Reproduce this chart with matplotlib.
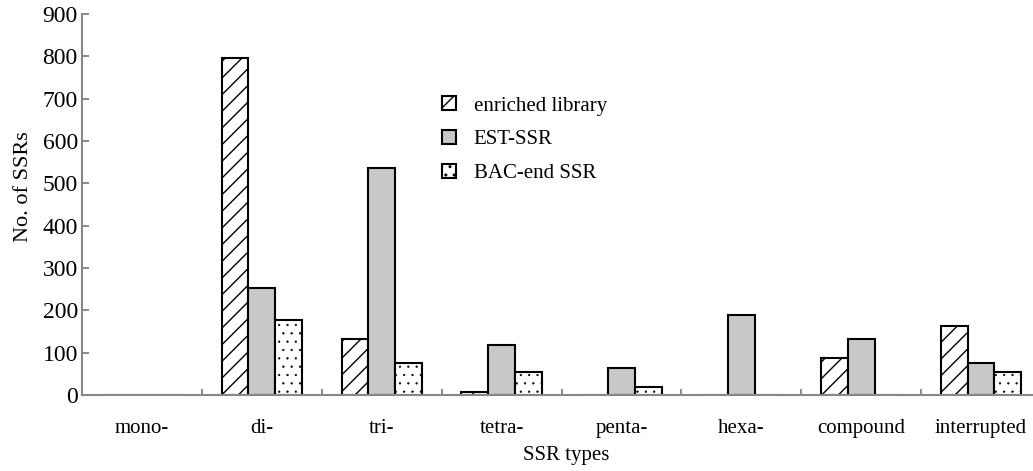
import matplotlib
matplotlib.use("Agg")
import matplotlib.pyplot as plt
import numpy as np

categories = ["mono-", "di-", "tri-", "tetra-", "penta-", "hexa-", "compound", "interrupted"]
enriched_library = [0, 797, 132, 6, 0, 0, 88, 163]
est_ssr = [0, 253, 536, 119, 63, 189, 132, 76]
bac_end_ssr = [0, 176, 76, 54, 19, 0, 0, 54]
series_names = ["enriched library", "EST-SSR", "BAC-end SSR"]
yticks = [0, 100, 200, 300, 400, 500, 600, 700, 800, 900]

plt.rcParams['font.family'] = ['Liberation Serif', 'DejaVu Serif']
plt.rcParams['hatch.linewidth'] = 1.0
plt.rcParams['hatch.color'] = 'black'

fig = plt.figure(figsize=(10.33, 4.71), dpi=100)
ax = fig.add_axes([82/1033, 1-395/471, (1041-82)/1033, (395-14)/471])

x = np.arange(len(categories))
w = 0.223
styles = [dict(facecolor='white', hatch='//'),
          dict(facecolor='#c8c8c8', hatch=None),
          dict(facecolor='white', hatch='..')]
data = [enriched_library, est_ssr, bac_end_ssr]
for i, (vals, st, name) in enumerate(zip(data, styles, series_names)):
    bars = ax.bar(x + (i - 1) * w, vals, width=w, edgecolor='black', linewidth=1.5,
                  label=name, **st)
    if i == 2:
        for b in bars:
            try:
                b.set_hatch_linewidth(0.4)
            except Exception:
                pass

ax.set_xlim(-0.5, 7.5)
ax.set_ylim(0, 900)
ax.set_yticks(yticks)
ax.set_xticks(x)
ax.set_xticklabels(categories, fontsize=15)
ax.set_xticks(np.arange(-0.5, 7.6, 1.0), minor=True)
ax.tick_params(axis='x', which='major', length=0, pad=17)
ax.tick_params(axis='x', which='minor', direction='in', length=4, color='#777777', width=1.2)
ax.tick_params(axis='y', direction='in', length=5, color='#777777', width=1.2, labelsize=17, pad=3)

for s in ['top', 'right']:
    ax.spines[s].set_visible(False)
for s in ['left', 'bottom']:
    ax.spines[s].set_color('#888888')
    ax.spines[s].set_linewidth(1.5)

ax.set_xlabel("SSR types", fontsize=15, labelpad=6)
ax.xaxis.label.set_x(0.505)
ax.set_ylabel("No. of SSRs", fontsize=16, labelpad=7)
ax.yaxis.label.set_y(0.546)

leg = ax.legend(loc='upper left', bbox_to_anchor=((434-82)/959, 1-(88-14)/381),
                frameon=False, fontsize=15, handlelength=0.65, handleheight=0.65,
                handletextpad=0.85, labelspacing=0.7, borderaxespad=0)
for p in leg.get_patches():
    p.set_linewidth(1.5)

fig.savefig("out.png", dpi=100)
